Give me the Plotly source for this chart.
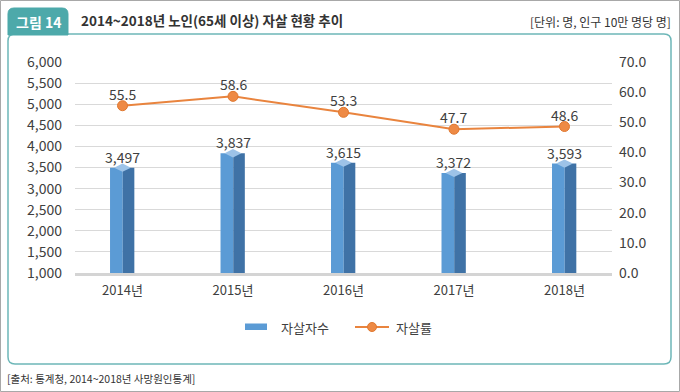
import plotly.graph_objects as go

# ---- data ----
years = ["2014년", "2015년", "2016년", "2017년", "2018년"]
suicides = [3497, 3837, 3615, 3372, 3593]
rates = [55.5, 58.6, 53.3, 47.7, 48.6]
left_ticks = [1000, 1500, 2000, 2500, 3000, 3500, 4000, 4500, 5000, 5500, 6000]
right_ticks = [0, 10, 20, 30, 40, 50, 60, 70]

title_tab = "그림 14"
title_text = "2014~2018년 노인(65세 이상) 자살 현황 추이"
unit_text = "[단위: 명, 인구 10만 명당 명]"
source_text = "[출처: 통계청, 2014~2018년 사망원인통계]"
legend_names = ["자살자수", "자살률"]

# ---- layout geometry (pixels) ----
W, H = 680, 392
L, R, T, B = 75, 68, 62, 119
PW = W - L - R
PH = H - T - B
FONT = "Noto Sans CJK KR"
TXT = "#404040"
TEAL = "#4DA9AA"
BAR_L = "#5B9BD5"
BAR_D = "#3F72A6"
CAP = "#9DC3E8"
ORANGE = "#E9843E"


def px(x):
    return (x - L) / PW


def py(y):
    return (H - B - y) / PH


def pt(x, y):
    return f"{px(x):.5f},{py(y):.5f}"


def rrect(x0, y0, x1, y1, r, top_only=False):
    rb = 0 if top_only else r
    s = f"M{pt(x0 + r, y0)} L{pt(x1 - r, y0)} Q{pt(x1, y0)} {pt(x1, y0 + r)} "
    if rb:
        s += f"L{pt(x1, y1 - rb)} Q{pt(x1, y1)} {pt(x1 - rb, y1)} L{pt(x0 + rb, y1)} Q{pt(x0, y1)} {pt(x0, y1 - rb)} "
    else:
        s += f"L{pt(x1, y1)} L{pt(x0, y1)} "
    s += f"L{pt(x0, y0 + r)} Q{pt(x0, y0)} {pt(x0 + r, y0)} Z"
    return s


fig = go.Figure()

# 3D-style bars: light front face + darker side face
fig.add_trace(go.Bar(x=years, y=suicides, width=0.115, offset=-0.113,
                     marker=dict(color=BAR_L, line=dict(width=0)),
                     showlegend=False, hoverinfo="skip"))
fig.add_trace(go.Bar(x=years, y=suicides, width=0.105, offset=0.002,
                     marker=dict(color=BAR_D, line=dict(width=0)),
                     name=legend_names[0], showlegend=False))
# bar caps
fig.add_trace(go.Scatter(x=years, y=suicides, mode="markers",
                         marker=dict(symbol="diamond-wide", size=12, color=CAP,
                                     line=dict(width=0)),
                         showlegend=False, hoverinfo="skip", cliponaxis=False))
# rate line
fig.add_trace(go.Scatter(x=years, y=rates, yaxis="y2", mode="lines+markers",
                         line=dict(color=ORANGE, width=2),
                         marker=dict(size=10, color="#EE8A45", line=dict(color="#E07830", width=1)),
                         name=legend_names[1], showlegend=False, cliponaxis=False))

shapes = []
annotations = []

# data labels
for yr, v in zip(years, suicides):
    annotations.append(dict(x=yr, y=v, xref="x", yref="y", yshift=11,
                            xanchor="center", yanchor="middle", showarrow=False,
                            text=f"{v:,}", font=dict(family=FONT, size=14, color=TXT)))
for yr, v in zip(years, rates):
    annotations.append(dict(x=yr, y=v, xref="x", yref="y2", yshift=12,
                            xanchor="center", yanchor="middle", showarrow=False,
                            text=f"{v:.1f}", font=dict(family=FONT, size=14, color=TXT)))

# outer image border
shapes.append(dict(type="rect", xref="paper", yref="paper",
                   x0=px(0.5), x1=px(679.5), y0=py(0.5), y1=py(391.5),
                   line=dict(color="#A8A8A8", width=1), layer="below"))
# rounded teal frame
shapes.append(dict(type="path", xref="paper", yref="paper",
                   path=rrect(8, 34, 671, 364, 7),
                   line=dict(color="#6DB7B8", width=1.5), layer="below"))
# tab
shapes.append(dict(type="path", xref="paper", yref="paper",
                   path=rrect(8, 8, 68, 35, 6, top_only=True),
                   fillcolor=TEAL, line=dict(color=TEAL, width=1), layer="below"))
# floor shadow
shapes.append(dict(type="line", xref="paper", yref="paper",
                   x0=0, x1=1, y0=py(274.5), y1=py(274.5),
                   line=dict(color="#D4D4D4", width=3), layer="below"))

# legend (manual)
shapes.append(dict(type="rect", xref="paper", yref="paper",
                   x0=px(245), x1=px(267), y0=py(323.5), y1=py(330),
                   fillcolor=BAR_L, line=dict(width=0)))
shapes.append(dict(type="line", xref="paper", yref="paper",
                   x0=px(355), x1=px(389), y0=py(327), y1=py(327),
                   line=dict(color=ORANGE, width=2)))
shapes.append(dict(type="circle", xref="paper", yref="paper",
                   x0=px(367.5), x1=px(376.5), y0=py(331.5), y1=py(322.5),
                   fillcolor="#EE8A45", line=dict(color="#E07830", width=1)))
annotations.append(dict(xref="paper", yref="paper", x=px(279), y=py(327),
                        xanchor="left", yanchor="middle", showarrow=False,
                        text=legend_names[0], font=dict(family=FONT, size=13, color=TXT)))
annotations.append(dict(xref="paper", yref="paper", x=px(394), y=py(327),
                        xanchor="left", yanchor="middle", showarrow=False,
                        text=legend_names[1], font=dict(family=FONT, size=13, color=TXT)))

# header texts
annotations.append(dict(xref="paper", yref="paper", x=px(38), y=py(22),
                        xanchor="center", yanchor="middle", showarrow=False,
                        text=f"<b>{title_tab}</b>", font=dict(family=FONT, size=14, color="white")))
annotations.append(dict(xref="paper", yref="paper", x=px(79), y=py(20),
                        xanchor="left", yanchor="middle", showarrow=False,
                        text=f"<b>{title_text}</b>", font=dict(family=FONT, size=13.5, color="#333333")))
annotations.append(dict(xref="paper", yref="paper", x=px(673), y=py(21),
                        xanchor="right", yanchor="middle", showarrow=False,
                        text=unit_text, font=dict(family=FONT, size=12, color="#333333")))
annotations.append(dict(xref="paper", yref="paper", x=px(5), y=py(378),
                        xanchor="left", yanchor="middle", showarrow=False,
                        text=source_text, font=dict(family=FONT, size=10.5, color="#333333")))

fig.update_layout(
    width=W, height=H,
    margin=dict(l=L, r=R, t=T, b=B, pad=0),
    paper_bgcolor="white", plot_bgcolor="white",
    barmode="overlay", showlegend=False,
    font=dict(family=FONT, color=TXT),
    xaxis=dict(type="category", range=[-0.43, 4.43], showgrid=False, zeroline=False,
               showline=False, ticks="", ticklabelstandoff=8,
               tickfont=dict(family=FONT, size=13, color=TXT)),
    yaxis=dict(range=[1000, 6000], tickvals=left_ticks,
               ticktext=[f"{v:,}" for v in left_ticks],
               showgrid=True, gridcolor="#D9D9D9", gridwidth=1, zeroline=False,
               showline=False, ticks="", ticklabelstandoff=12,
               tickfont=dict(family=FONT, size=14, color=TXT)),
    yaxis2=dict(range=[0, 70], overlaying="y", side="right", tickvals=right_ticks,
                ticktext=[f"{v:.1f}" for v in right_ticks],
                showgrid=False, zeroline=False, showline=False, ticks="",
                ticklabelstandoff=6,
                tickfont=dict(family=FONT, size=14, color=TXT)),
    shapes=shapes, annotations=annotations,
)

fig.write_html("out.html", config={"displayModeBar": False},
               post_script="document.body.style.margin='0';document.body.style.overflow='hidden';")
